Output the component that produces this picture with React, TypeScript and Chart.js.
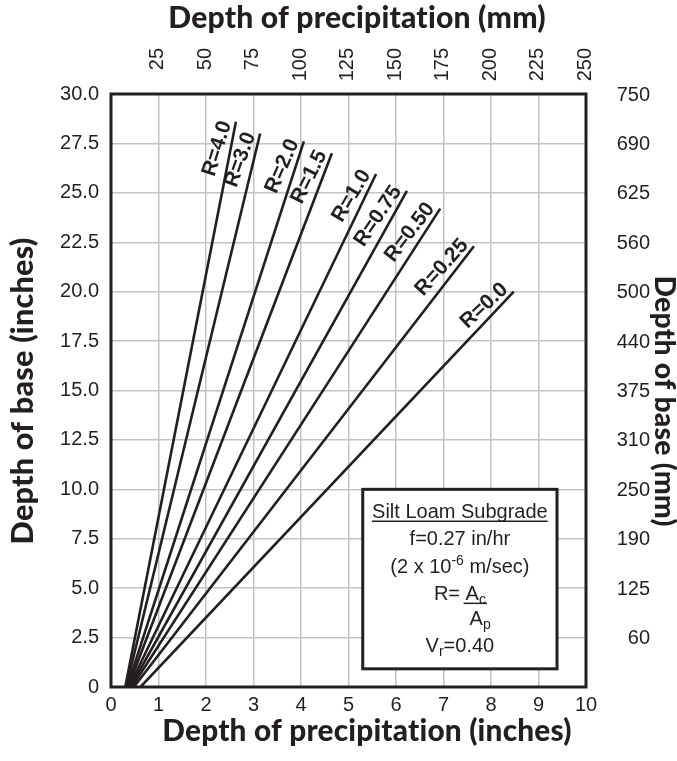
import React, { useEffect, useRef } from "react";
import { Chart, registerables } from "chart.js";

Chart.register(...registerables);

// ---- data ----
const rLabels = ["R=4.0", "R=3.0", "R=2.0", "R=1.5", "R=1.0", "R=0.75", "R=0.50", "R=0.25", "R=0.0"];
const startX = [0.30, 0.32, 0.34, 0.36, 0.38, 0.41, 0.44, 0.48, 0.62];
const endX = [2.63, 3.14, 4.06, 4.65, 5.58, 6.23, 6.93, 7.64, 8.48];
const endY = [28.6, 28.0, 27.6, 27.0, 25.95, 25.1, 24.2, 22.3, 20.0];

const xTickLabels = ["0", "1", "2", "3", "4", "5", "6", "7", "8", "9", "10"];
const yTickLabels = ["0", "2.5", "5.0", "7.5", "10.0", "12.5", "15.0", "17.5", "20.0", "22.5", "25.0", "27.5", "30.0"];
const mmTopLabels = ["", "25", "50", "75", "100", "125", "150", "175", "200", "225", "250"];
const mmRightLabels = ["", "60", "125", "190", "250", "310", "375", "440", "500", "560", "625", "690", "750"];

const INK = "#231f20";
const GRID = "#c2c3c5";
const TICK_SIZE = 20;
const TICK_FONT = `${TICK_SIZE}px "Liberation Sans", Arial, sans-serif`;
const TITLE_FAMILY = 'Lato, "Open Sans", sans-serif';

function fitFont(ctx: CanvasRenderingContext2D, text: string, target: number) {
  ctx.font = `900 24px ${TITLE_FAMILY}`;
  const w = ctx.measureText(text).width;
  const size = (24 * target) / w;
  return `900 ${size.toFixed(2)}px ${TITLE_FAMILY}`;
}

const overlay = {
  id: "overlay",
  afterDatasetsDraw(chart: any) {
    const { ctx, chartArea, scales } = chart;
    const xs = scales.x;
    const ys = scales.y;
    ctx.save();

    // line labels
    ctx.fillStyle = INK;
    ctx.font = 'bold 21px "Liberation Sans", Arial, sans-serif';
    chart.data.datasets.forEach((ds: any, i: number) => {
      const meta = chart.getDatasetMeta(i);
      const p0 = meta.data[0];
      const p1 = meta.data[1];
      const ang = Math.atan2(p1.y - p0.y, p1.x - p0.x) * 0.92;
      ctx.save();
      ctx.translate(p1.x, p1.y);
      ctx.rotate(ang);
      ctx.textAlign = "right";
      ctx.textBaseline = "alphabetic";
      ctx.fillText(ds.label, -3, -4);
      ctx.restore();
    });

    // plot frame
    ctx.strokeStyle = INK;
    ctx.lineWidth = 3;
    ctx.strokeRect(chartArea.left, chartArea.top, chartArea.right - chartArea.left, chartArea.bottom - chartArea.top);

    // legend box
    const bx0 = xs.getPixelForValue(5.3);
    const bx1 = xs.getPixelForValue(9.39);
    const by0 = ys.getPixelForValue(10.0);
    const by1 = ys.getPixelForValue(0.92);
    ctx.fillStyle = "#ffffff";
    ctx.fillRect(bx0, by0, bx1 - bx0, by1 - by0);
    ctx.strokeStyle = INK;
    ctx.lineWidth = 3;
    ctx.strokeRect(bx0, by0, bx1 - bx0, by1 - by0);

    const cx = (bx0 + bx1) / 2;
    const F = '20px "Liberation Sans", Arial, sans-serif';
    const FS = '14px "Liberation Sans", Arial, sans-serif';
    ctx.fillStyle = INK;
    ctx.textBaseline = "alphabetic";
    ctx.textAlign = "left";

    const drawRuns = (runs: [string, number][], baseY: number, startX?: number) => {
      let total = 0;
      runs.forEach(([t, k]) => {
        ctx.font = k === 0 ? F : FS;
        total += ctx.measureText(t).width;
      });
      let x = startX !== undefined ? startX : cx - total / 2;
      const pos: number[] = [];
      runs.forEach(([t, k]) => {
        ctx.font = k === 0 ? F : FS;
        const dy = k === 1 ? -8 : k === 2 ? 4 : 0;
        ctx.fillText(t, x, baseY + dy);
        pos.push(x);
        x += ctx.measureText(t).width;
      });
      return { start: cx - total / 2, end: x, pos };
    };

    const line1 = drawRuns([["Silt Loam Subgrade", 0]], by0 + 29);
    ctx.lineWidth = 1.5;
    ctx.beginPath();
    ctx.moveTo(line1.start, by0 + 32);
    ctx.lineTo(line1.end, by0 + 32);
    ctx.stroke();
    drawRuns([["f=0.27 in/hr", 0]], by0 + 56);
    drawRuns([["(2 x 10", 0], ["-6", 1], [" m/sec)", 0]], by0 + 84);
    const rr = drawRuns([["R= ", 0], ["A", 0], ["c", 2]], by0 + 111);
    ctx.beginPath();
    ctx.moveTo(rr.pos[1] - 2, by0 + 114);
    ctx.lineTo(rr.end + 1, by0 + 114);
    ctx.stroke();
    drawRuns([["A", 0], ["p", 2]], by0 + 136, rr.pos[1] + 4);
    drawRuns([["V", 0], ["r", 2], ["=0.40", 0]], by0 + 163);

    // top mm tick labels
    ctx.font = TICK_FONT;
    ctx.fillStyle = INK;
    mmTopLabels.forEach((t, i) => {
      if (!t) return;
      const x = xs.getPixelForValue(i);
      ctx.save();
      ctx.translate(x - 1, 48);
      ctx.rotate(-Math.PI / 2);
      ctx.textAlign = "right";
      ctx.textBaseline = "middle";
      ctx.fillText(t, 0, 0);
      ctx.restore();
    });

    // right mm tick labels
    ctx.textAlign = "right";
    ctx.textBaseline = "middle";
    mmRightLabels.forEach((t, i) => {
      if (!t) return;
      const y = ys.getPixelForValue(i * 2.5);
      ctx.fillText(t, 650, y + 1);
    });

    // axis titles
    try {
      (ctx as any).letterSpacing = "0.2px";
    } catch (e) {}
    ctx.fillStyle = INK;
    ctx.textBaseline = "alphabetic";
    ctx.textAlign = "center";
    let t = "Depth of precipitation (mm)";
    ctx.font = fitFont(ctx, t, 379);
    ctx.fillText(t, 357, 28);

    t = "Depth of precipitation (inches)";
    ctx.font = fitFont(ctx, t, 411);
    ctx.fillText(t, 367, 741);

    t = "Depth of base (inches)";
    ctx.font = fitFont(ctx, t, 308);
    ctx.save();
    ctx.translate(33, 391);
    ctx.rotate(-Math.PI / 2);
    ctx.fillText(t, 0, 0);
    ctx.restore();

    t = "Depth of base (mm)";
    ctx.font = fitFont(ctx, t, 252);
    ctx.save();
    ctx.translate(655, 401);
    ctx.rotate(Math.PI / 2);
    ctx.fillText(t, 0, 0);
    ctx.restore();
    try {
      (ctx as any).letterSpacing = "0px";
    } catch (e) {}

    ctx.restore();
  },
};

export default function App() {
  const ref = useRef<HTMLCanvasElement | null>(null);

  useEffect(() => {
    if (!ref.current) return;
    Chart.defaults.font.family = '"Liberation Sans", Arial, sans-serif';
    const datasets = rLabels.map((lab, i) => ({
      label: lab,
      data: [
        { x: startX[i], y: 0 },
        { x: endX[i], y: endY[i] },
      ],
      borderColor: INK,
      backgroundColor: INK,
      borderWidth: 2.6,
      pointRadius: 0,
      fill: false,
      tension: 0,
    }));

    const chart = new Chart(ref.current, {
      type: "line",
      data: { datasets },
      options: {
        animation: false,
        responsive: false,
        devicePixelRatio: 1,
        layout: { padding: 0 },
        plugins: { legend: { display: false }, tooltip: { enabled: false }, title: { display: false } },
        scales: {
          x: {
            type: "linear",
            position: "bottom",
            min: 0,
            max: 10,
            ticks: {
              stepSize: 1,
              color: INK,
              font: { size: TICK_SIZE },
              padding: 6,
              maxRotation: 0,
              callback: (_v: any, i: number) => xTickLabels[i],
            },
            grid: { color: GRID, lineWidth: 1.5, drawTicks: false },
            border: { display: false },
            afterFit: (s: any) => {
              s.height = 74;
            },
          },
          x2: {
            type: "linear",
            position: "top",
            min: 0,
            max: 10,
            ticks: { display: false },
            grid: { display: false, drawTicks: false },
            border: { display: false },
            afterFit: (s: any) => {
              s.height = 94;
            },
          },
          y: {
            type: "linear",
            position: "left",
            min: 0,
            max: 30,
            ticks: {
              stepSize: 2.5,
              color: INK,
              font: { size: TICK_SIZE },
              padding: 12,
              callback: (_v: any, i: number) => yTickLabels[i],
            },
            grid: { color: GRID, lineWidth: 1.5, drawTicks: false },
            border: { display: false },
            afterFit: (s: any) => {
              s.width = 111;
            },
          },
          y2: {
            type: "linear",
            position: "right",
            min: 0,
            max: 30,
            ticks: { display: false },
            grid: { display: false, drawTicks: false },
            border: { display: false },
            afterFit: (s: any) => {
              s.width = 91;
            },
          },
        },
      },
      plugins: [overlay],
    } as any);
    return () => chart.destroy();
  }, []);

  return (
    <div style={{ position: "absolute", left: 0, top: 0, width: 677, height: 761, background: "#fff" }}>
      <canvas ref={ref} width={677} height={761} style={{ width: 677, height: 761, display: "block" }} />
    </div>
  );
}
